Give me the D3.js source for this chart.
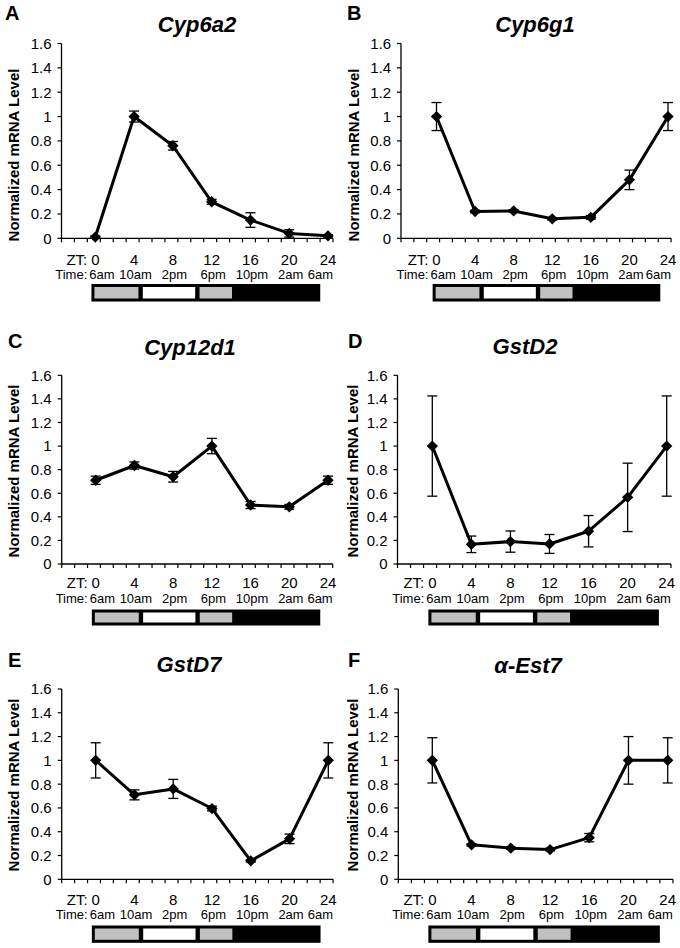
<!DOCTYPE html>
<html><head><meta charset="utf-8">
<script src="https://cdn.jsdelivr.net/npm/d3@7"></script>
<style>
body{margin:0;background:#fff}
svg{display:block}
text{font-family:"Liberation Sans",Arial,Helvetica,sans-serif;fill:#000}
</style>
</head><body>
<svg id="chart" width="680" height="948"></svg>
<script>
// ---------- data ----------
const zt = [0, 4, 8, 12, 16, 20, 24];
const ztLabels = ["0", "4", "8", "12", "16", "20", "24"];
const timeLabels = ["6am", "10am", "2pm", "6pm", "10pm", "2am", "6am"];
const yTicks = [0, 0.2, 0.4, 0.6, 0.8, 1, 1.2, 1.4, 1.6];
const yTickLabels = ["0", "0.2", "0.4", "0.6", "0.8", "1", "1.2", "1.4", "1.6"];
const genes = ["Cyp6a2", "Cyp6g1", "Cyp12d1", "GstD2", "GstD7", "α-Est7"];
const panelLetters = ["A", "B", "C", "D", "E", "F"];

const cyp6a2    = [0.01, 1.00, 0.76, 0.30, 0.15, 0.04, 0.02];
const cyp6a2Err = [0.01, 0.045, 0.035, 0.02, 0.06, 0.03, 0.01];
const cyp6g1    = [1.00, 0.22, 0.225, 0.16, 0.172, 0.48, 1.00];
const cyp6g1Err = [0.115, 0.01, 0.01, 0.01, 0.015, 0.08, 0.115];
const cyp12d1    = [0.71, 0.835, 0.74, 1.00, 0.50, 0.485, 0.71];
const cyp12d1Err = [0.035, 0.03, 0.045, 0.065, 0.03, 0.02, 0.035];
const gstD2    = [1.00, 0.167, 0.19, 0.17, 0.278, 0.565, 1.00];
const gstD2Err = [0.425, 0.07, 0.09, 0.08, 0.133, 0.29, 0.425];
const gstD7    = [1.00, 0.71, 0.76, 0.595, 0.155, 0.34, 1.00];
const gstD7Err = [0.148, 0.042, 0.08, 0.02, 0.01, 0.04, 0.148];
const aEst7    = [1.00, 0.29, 0.262, 0.25, 0.35, 1.00, 1.00];
const aEst7Err = [0.19, 0.01, 0.01, 0.01, 0.035, 0.2, 0.19];

const seriesValues = [cyp6a2, cyp6g1, cyp12d1, gstD2, gstD7, aEst7];
const seriesErrors = [cyp6a2Err, cyp6g1Err, cyp12d1Err, gstD2Err, gstD7Err, aEst7Err];

// light/dark bar (in ZT units)
const barSpan = [-0.4, 23.2];
const barSegments = [
  {from: -0.4, to: 4.45, fill: "#c0c0c0"},
  {from: 4.9, to: 10.3, fill: "#ffffff"},
  {from: 10.75, to: 14.1, fill: "#c0c0c0"}
];

// ---------- layout ----------
const rows = [
  {top: 43.5, bot: 238.3, ztBase: 265, timeBase: 279, barTop: 284, barBot: 301.5, yLabC: 155},
  {top: 375.3, bot: 564, ztBase: 588, timeBase: 603, barTop: 609.5, barBot: 625.5, yLabC: 471},
  {top: 689, bot: 879.3, ztBase: 905, timeBase: 919, barTop: 925.5, barBot: 942.8, yLabC: 785}
];
const panels = [
  {row: 0, ax: 61.5, x0: 95.3, x24: 328,   titleX: 197, titleBase: 31.7, letX: 5,   letBase: 20,  yLabX: 13.5},
  {row: 0, ax: 401,  x0: 436.5, x24: 668,  titleX: 535, titleBase: 32,   letX: 347, letBase: 20,  yLabX: 353.5},
  {row: 1, ax: 61.7, x0: 95.7, x24: 328,   titleX: 190, titleBase: 355,  letX: 8,   letBase: 348, yLabX: 14},
  {row: 1, ax: 397.5, x0: 432.3, x24: 666.7, titleX: 525, titleBase: 354, letX: 348, letBase: 348, yLabX: 352.5},
  {row: 2, ax: 61.7, x0: 95.7, x24: 328.3, titleX: 189, titleBase: 672,  letX: 8,   letBase: 667, yLabX: 14},
  {row: 2, ax: 398.3, x0: 432.3, x24: 667.7, titleX: 528, titleBase: 673, letX: 348, letBase: 667, yLabX: 353}
];

const svg = d3.select("#chart");

panels.forEach((p, i) => {
  const r = rows[p.row];
  const g = svg.append("g");
  const x = d3.scaleLinear().domain([0, 24]).range([p.x0, p.x24]);
  const y = d3.scaleLinear().domain([0, 1.6]).range([r.bot, r.top]);

  // x-axis: category-like ticks, 21 intervals starting at the y axis
  const zStart = x.invert(p.ax);
  const step = 4 / 3;
  const xTickVals = d3.range(22).map(k => zStart + k * step);
  const xEnd = x(xTickVals[21]);

  g.append("line").attr("x1", p.ax).attr("x2", xEnd).attr("y1", r.bot).attr("y2", r.bot)
    .attr("stroke", "#000").attr("stroke-width", 1.3);
  g.selectAll(".xt").data(xTickVals).join("line")
    .attr("x1", d => x(d)).attr("x2", d => x(d))
    .attr("y1", r.bot).attr("y2", r.bot + 4)
    .attr("stroke", "#000").attr("stroke-width", 1.2);

  // y-axis
  g.append("line").attr("x1", p.ax).attr("x2", p.ax).attr("y1", y(1.6)).attr("y2", y(0))
    .attr("stroke", "#000").attr("stroke-width", 1.3);
  g.selectAll(".yt").data(yTicks).join("line")
    .attr("x1", p.ax - 4).attr("x2", p.ax).attr("y1", d => y(d)).attr("y2", d => y(d))
    .attr("stroke", "#000").attr("stroke-width", 1.2);
  g.selectAll(".ytl").data(yTicks).join("text")
    .attr("x", p.ax - 10).attr("y", d => y(d)).attr("dy", "0.36em")
    .attr("text-anchor", "end").attr("font-size", 15)
    .text((d, j) => yTickLabels[j]);

  // y-axis title
  g.append("text")
    .attr("transform", `translate(${p.yLabX},${r.yLabC}) rotate(-90)`)
    .attr("dy", "0.36em").attr("text-anchor", "middle")
    .attr("font-size", 15).attr("font-weight", "bold")
    .text("Normalized mRNA Level");

  // title & panel letter
  g.append("text").attr("x", p.titleX).attr("y", p.titleBase)
    .attr("text-anchor", "middle").attr("font-size", 22)
    .attr("font-weight", "bold").attr("font-style", "italic")
    .text(genes[i]);
  g.append("text").attr("x", p.letX).attr("y", p.letBase)
    .attr("font-size", 20).attr("font-weight", "bold")
    .text(panelLetters[i]);

  // ZT labels
  g.append("text").attr("x", p.x0 - 8).attr("y", r.ztBase)
    .attr("text-anchor", "end").attr("font-size", 15).text("ZT:");
  g.selectAll(".ztl").data(zt).join("text")
    .attr("x", d => x(d)).attr("y", r.ztBase)
    .attr("text-anchor", "middle").attr("font-size", 15)
    .text((d, j) => ztLabels[j]);

  // Time labels
  g.append("text").attr("x", p.x0 - 8).attr("y", r.timeBase)
    .attr("text-anchor", "end").attr("font-size", 13).text("Time:");
  g.selectAll(".tl").data(zt).join("text")
    .attr("x", (d, j) => j === 0 ? p.x0 - 6 : (j === zt.length - 1 ? xEnd : x(d) + 1.5))
    .attr("y", r.timeBase)
    .attr("text-anchor", (d, j) => j === 0 ? "start" : (j === zt.length - 1 ? "end" : "middle"))
    .attr("font-size", 13)
    .text((d, j) => timeLabels[j]);

  // light/dark bar
  g.append("rect")
    .attr("x", x(barSpan[0])).attr("y", r.barTop)
    .attr("width", x(barSpan[1]) - x(barSpan[0])).attr("height", r.barBot - r.barTop)
    .attr("fill", "#000");
  g.selectAll(".seg").data(barSegments).join("rect")
    .attr("x", (d, j) => x(d.from) + (j === 0 ? 3 : 0))
    .attr("width", (d, j) => x(d.to) - x(d.from) - (j === 0 ? 3 : 0))
    .attr("y", r.barTop + 3).attr("height", r.barBot - r.barTop - 6)
    .attr("fill", d => d.fill);

  // data
  const vals = seriesValues[i], errs = seriesErrors[i];
  const pts = zt.map((z, j) => ({z, v: vals[j], e: errs[j]}));

  g.append("path").datum(pts)
    .attr("d", d3.line().x(d => x(d.z)).y(d => y(d.v)))
    .attr("fill", "none").attr("stroke", "#000").attr("stroke-width", 3)
    .attr("stroke-linejoin", "round");

  const eb = g.selectAll(".eb").data(pts).join("g");
  eb.append("line").attr("x1", d => x(d.z)).attr("x2", d => x(d.z))
    .attr("y1", d => y(d.v + d.e)).attr("y2", d => y(Math.max(0, d.v - d.e)))
    .attr("stroke", "#000").attr("stroke-width", 1.3);
  eb.append("line").attr("x1", d => x(d.z) - 5).attr("x2", d => x(d.z) + 5)
    .attr("y1", d => y(d.v + d.e)).attr("y2", d => y(d.v + d.e))
    .attr("stroke", "#000").attr("stroke-width", 1.3);
  eb.append("line").attr("x1", d => x(d.z) - 5).attr("x2", d => x(d.z) + 5)
    .attr("y1", d => y(Math.max(0, d.v - d.e))).attr("y2", d => y(Math.max(0, d.v - d.e)))
    .attr("stroke", "#000").attr("stroke-width", 1.3);

  g.selectAll(".mk").data(pts).join("path")
    .attr("d", d3.symbol(d3.symbolSquare, 64)())
    .attr("transform", d => `translate(${x(d.z)},${y(d.v)}) rotate(45)`)
    .attr("fill", "#000");
});
</script>
</body></html>
